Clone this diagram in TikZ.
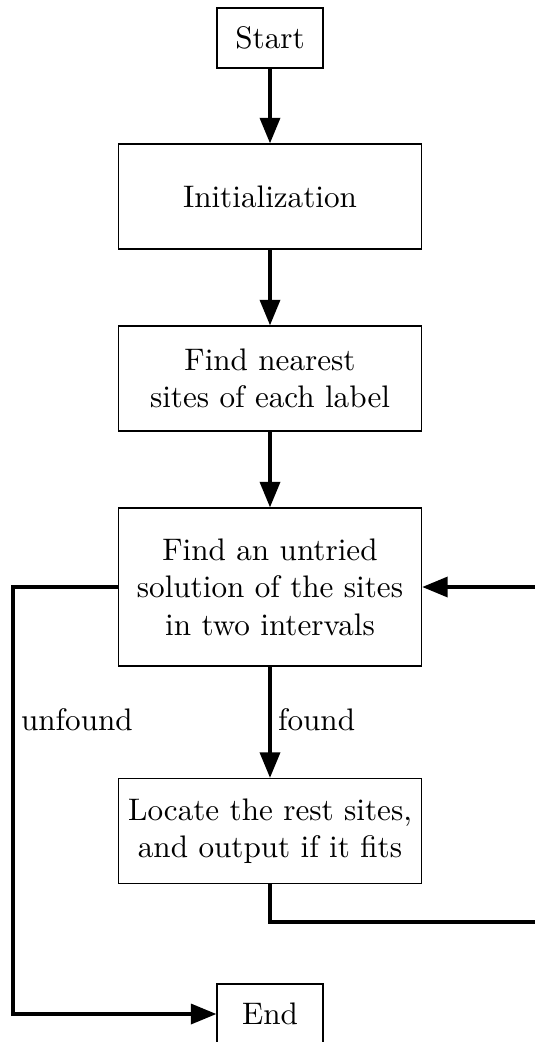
\documentclass[tikz,border=0pt]{standalone}
\usepackage{tikz}
\usetikzlibrary{arrows.meta}
\tikzstyle{block} = [draw, line width=0.4pt, align=center, minimum width=97.3pt, minimum height=33.7pt, inner sep=0pt]
\tikzstyle{term} = [draw, line width=0.4pt, minimum width=34pt, minimum height=19.3pt]
\tikzstyle{flow} = [line width=1.2pt, -{Triangle[length=8.2pt,width=6.4pt]}]

\begin{document}
\begin{tikzpicture}[x=0.321pt, y=-0.321pt]
\useasboundingbox (0,0) rectangle (535,1042);

\node[term] (start) at (270,38) {Start};
\node[block] (init) at (270,196.5) {Initialization};
\node[block] (nearest) at (270,378.5) {Find nearest\\sites of each label};
\node[block, minimum height=50.7pt] (untried) at (270,587) {Find an untried\\solution of the sites\\in two intervals};
\node[block] (locate) at (270,831) {Locate the rest sites,\\and output if it fits};
\node[term] (end) at (270,1014) {End};

\draw[flow] (start) -- (init);
\draw[flow] (init) -- (nearest);
\draw[flow] (nearest) -- (untried);
\draw[flow] (untried) -- (locate);

% loop back and exit
\coordinate (leftc) at (13,1014);
\coordinate (rightc) at (548,922);
\draw[flow] (untried.west) -| (leftc) -- (end.west);
\draw[flow] (locate.south) |- (rightc) |- (untried.east);

\node[right] (unfoundlbl) at (10,720) {unfound};
\node[right] (foundlbl) at (267,720) {found};
\end{tikzpicture}
\end{document}
